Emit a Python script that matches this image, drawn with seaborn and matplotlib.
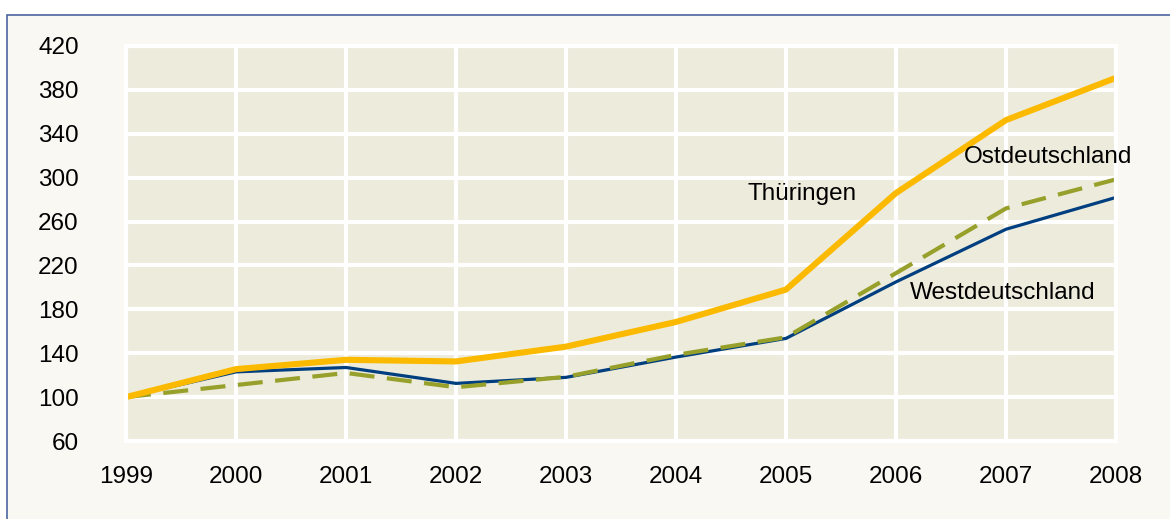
import pandas as pd
import matplotlib.pyplot as plt
import matplotlib.patches as mpatches
import seaborn as sns

# Data (index, 1999 = 100)
years = [1999, 2000, 2001, 2002, 2003, 2004, 2005, 2006, 2007, 2008]
westdeutschland = [100, 123, 127, 112.5, 118, 136.5, 153.5, 205, 253, 282]
ostdeutschland = [100, 111, 122, 109, 118.5, 138.5, 154.5, 213, 272, 298.5]
thueringen = [100, 125.5, 134, 132.5, 146, 168.5, 198, 286, 352.5, 391]

y_ticks = [60, 100, 140, 180, 220, 260, 300, 340, 380, 420]

series = [
    ("Westdeutschland", westdeutschland, "#003F7F", 2.3, (None, None)),
    ("Ostdeutschland", ostdeutschland, "#97A02A", 3.0, (6, 3)),
    ("Thüringen", thueringen, "#FBBA00", 4.4, (None, None)),
]

labels = [
    ("Thüringen", 2005.15, 285),
    ("Ostdeutschland", 2007.38, 319),
    ("Westdeutschland", 2006.97, 195),
]

sns.set_style("whitegrid", {
    "axes.facecolor": "#EDEBDC",
    "grid.color": "white",
    "axes.edgecolor": "white",
})
plt.rcParams['font.family'] = ['Liberation Sans', 'DejaVu Sans']

fig = plt.figure(figsize=(11.7, 5.19), dpi=100)
fig.patch.set_facecolor("white")
# outer panel with thin blue border (top and left visible)
fig.patches.append(mpatches.Rectangle((7 / 1170, -0.1), 1.2, 1 - 15 / 519 + 0.1,
                                      transform=fig.transFigure, facecolor="#F9F8F3",
                                      edgecolor="#4A66A0", linewidth=1.2, zorder=-1))

ax = fig.add_axes([126 / 1170, 78 / 519, 990 / 1170, 395 / 519])

for name, vals, color, lw, dash in series:
    df = pd.DataFrame({"Jahr": years, "Wert": vals})
    sns.lineplot(data=df, x="Jahr", y="Wert", ax=ax, color=color, linewidth=lw)
    if dash[0] is not None:
        ax.lines[-1].set_dashes(dash)
    ax.lines[-1].set_solid_capstyle("butt")

for text, x, y in labels:
    ax.text(x, y, text, ha="center", va="center", fontsize=17.5, color="black")

ax.set_xlim(1999, 2008)
ax.set_ylim(60, 420)
ax.set_xticks(years)
ax.set_yticks(y_ticks)
ax.set_xticklabels([str(y) for y in years])
ax.grid(True, color="white", linewidth=3)
for sp in ax.spines.values():
    sp.set_color("white")
    sp.set_linewidth(3)
ax.tick_params(axis="both", length=0, labelsize=17.5, colors="black")
ax.tick_params(axis="x", pad=18)
ax.tick_params(axis="y", pad=34)
ax.set_xlabel("")
ax.set_ylabel("")

plt.savefig("out.png", dpi=100, facecolor=fig.get_facecolor())
